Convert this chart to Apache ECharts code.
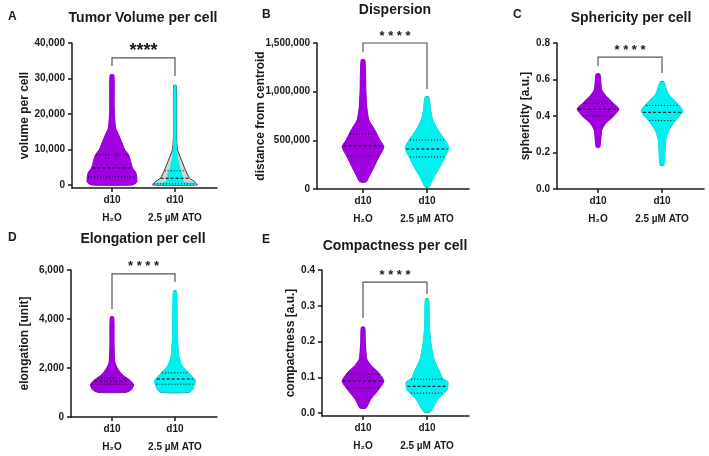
<!DOCTYPE html>
<html>
<head>
<meta charset="utf-8">
<script src="https://cdn.jsdelivr.net/npm/echarts@6/dist/echarts.min.js"></script>
<style>
  html, body { margin: 0; padding: 0; background: #fff; }
  #chart { width: 709px; height: 456px; }
</style>
</head>
<body>
<div id="chart"></div>
<script>
// groups on every x axis
const categories = ['d10\nH₂O', 'd10\n2.5 µM ATO']

// violin outlines: [value, relative density]
// A - tumor volume per cell
const volH2O = [[0, 0.95], [800, 1.15], [2300, 1.15], [3500, 1.1], [4800, 0.95], [6500, 0.86], [8500, 0.76], [10000, 0.57], [12000, 0.43], [14000, 0.29], [16000, 0.14], [18000, 0.1], [22000, 0.07], [31000, 0.05]]
const volATO = [[0, 1.05], [800, 0.95], [2000, 0.67], [4200, 0.48], [7000, 0.29], [9900, 0.1], [14000, 0.05], [28000, 0.04]]
const volATODots = [[0, 1.0], [500, 0.95], [900, 0.4], [2800, 0.33], [5000, 0.2], [8000, 0.1], [11000, 0.05], [28000, 0.03]]
const volQuartH2O = [2300, 4800, 8500]
const volQuartATO = [300, 1900, 4000]
const volTicks = [0, 10000, 20000, 30000, 40000]
const volBracket = [35800, 33500, 30700]

// B - dispersion
const disH2O = [[72000, 0.1], [123000, 0.24], [226000, 0.48], [329000, 0.71], [432000, 0.95], [503000, 0.76], [606000, 0.52], [710000, 0.24], [843000, 0.14], [1000000, 0.1], [1326000, 0.05]]
const disATO = [[20000, 0.05], [123000, 0.29], [226000, 0.57], [329000, 0.81], [421000, 1.0], [503000, 0.81], [606000, 0.48], [709000, 0.24], [800000, 0.14], [945000, 0.05]]
const disQuartH2O = [339000, 442000, 565000]
const disQuartATO = [329000, 411000, 503000]
const disTicks = [0, 500000, 1000000, 1500000]
const disBracket = [1500000, 1408000, 1028000]

// C - sphericity
const sphH2O = [[0.23, 0.05], [0.323, 0.14], [0.36, 0.33], [0.396, 0.67], [0.438, 0.95], [0.477, 0.62], [0.505, 0.38], [0.542, 0.14], [0.63, 0.05]]
const sphATO = [[0.13, 0.05], [0.27, 0.14], [0.323, 0.29], [0.378, 0.62], [0.428, 0.95], [0.477, 0.62], [0.525, 0.24], [0.587, 0.05]]
const sphQuartH2O = [0.40, 0.437, 0.47]
const sphQuartATO = [0.375, 0.42, 0.458]
const sphTicks = [0, 0.2, 0.4, 0.6, 0.8]
const sphBracket = [0.723, 0.674, 0.636]

// D - elongation
const eloH2O = [[1000, 0.6], [1080, 0.85], [1310, 1.0], [1510, 0.81], [1710, 0.48], [1960, 0.24], [2240, 0.1], [3000, 0.06], [4080, 0.04]]
const eloATO = [[1000, 0.6], [1100, 0.8], [1470, 0.95], [1630, 0.81], [1840, 0.57], [2120, 0.29], [2530, 0.14], [3500, 0.07], [5140, 0.04]]
const eloQuartH2O = [1340, 1470, 1590]
const eloQuartATO = [1340, 1550, 1800]
const eloTicks = [0, 2000, 4000, 6000]
const eloBracket = [5840, 4410, 5510]

// E - compactness
const comH2O = [[0.014, 0.1], [0.039, 0.33], [0.067, 0.71], [0.09, 0.95], [0.115, 0.67], [0.134, 0.33], [0.151, 0.14], [0.2, 0.07], [0.24, 0.04]]
const comATO = [[0.003, 0.1], [0.039, 0.48], [0.064, 0.9], [0.087, 0.95], [0.097, 0.7], [0.115, 0.57], [0.151, 0.29], [0.199, 0.14], [0.25, 0.07], [0.319, 0.04]]
const comQuartH2O = [0.07, 0.09, 0.109]
const comQuartATO = [0.056, 0.075, 0.095]
const comTicks = [0, 0.1, 0.2, 0.3, 0.4]
const comBracket = [0.366, 0.266, 0.333]

const PURPLE = '#a000e0'
const CYAN = '#00f0f0'
const BODY = '#d2d2d2'
const EDGE = '#3a3a3a'
const INK = '#1a1a1a'
const FONT = '"Liberation Sans", Arial, sans-serif'
const HALF = 0.33   // half width in x units for density 1
const DOT_R = 1.3   // dots poke out of the outline by about their radius

const commas = v => String(v).replace(/\B(?=(\d{3})+(?!\d))/g, ',')
const oneDec = v => v.toFixed(1)

const panels = [
  { letter: 'A', title: 'Tumor Volume per cell', name: 'volume per cell', nameGap: 41,
    grid: { left: 72, top: 43, width: 145, height: 145 }, xr: [0.365, 2.667], yr: [-850, 40000],
    ticks: volTicks, fmt: commas, shapes: [volH2O, volATO], dots: [volH2O, volATODots],
    quart: [volQuartH2O, volQuartATO], bracket: volBracket, stars: '****', starFont: 'bold 18px ' + FONT,
    titlePos: [143, 18], letterPos: [8, 17] },
  { letter: 'B', title: 'Dispersion', name: 'distance from centroid', nameGap: 50,
    grid: { left: 317, top: 43, width: 152, height: 146 }, xr: [0.281, 2.656], yr: [0, 1500000],
    ticks: disTicks, fmt: commas, shapes: [disH2O, disATO], dots: [disH2O, disATO],
    quart: [disQuartH2O, disQuartATO], bracket: disBracket, stars: '* * * *', starFont: 'bold 13px ' + FONT,
    titlePos: [395, 10], letterPos: [262, 15] },
  { letter: 'C', title: 'Sphericity per cell', name: 'sphericity [a.u.]', nameGap: 25,
    grid: { left: 557, top: 43, width: 147, height: 146 }, xr: [0.359, 2.656], yr: [0, 0.8],
    ticks: sphTicks, fmt: oneDec, shapes: [sphH2O, sphATO], dots: [sphH2O, sphATO],
    quart: [sphQuartH2O, sphQuartATO], bracket: sphBracket, stars: '* * * *', starFont: 'bold 13px ' + FONT,
    titlePos: [631, 18], letterPos: [513, 15] },
  { letter: 'D', title: 'Elongation per cell', name: 'elongation [unit]', nameGap: 40,
    grid: { left: 71, top: 270, width: 146, height: 147 }, xr: [0.349, 2.667], yr: [0, 6000],
    ticks: eloTicks, fmt: commas, shapes: [eloH2O, eloATO], dots: [eloH2O, eloATO],
    quart: [eloQuartH2O, eloQuartATO], bracket: eloBracket, stars: '* * * *', starFont: 'bold 13px ' + FONT,
    titlePos: [143, 239], letterPos: [8, 238] },
  { letter: 'E', title: 'Compactness per cell', name: 'compactness [a.u.]', nameGap: 25,
    grid: { left: 322, top: 270, width: 147, height: 146 }, xr: [0.359, 2.656], yr: [-0.008, 0.4],
    ticks: comTicks, fmt: oneDec, shapes: [comH2O, comATO], dots: [comH2O, comATO],
    quart: [comQuartH2O, comQuartATO], bracket: comBracket, stars: '* * * *', starFont: 'bold 13px ' + FONT,
    titlePos: [395, 246], letterPos: [262, 240] }
]

function densityAt(prof, v) {
  for (let i = 0; i < prof.length - 1; i++) {
    const a = prof[i], b = prof[i + 1]
    if (v >= a[0] && v <= b[0]) return a[1] + (b[1] - a[1]) * (v - a[0]) / (b[0] - a[0])
  }
  return 0
}

function violinSeries(idx, xv, shape, dots, quart, color) {
  return {
    type: 'custom', xAxisIndex: idx, yAxisIndex: idx, silent: true, clip: false,
    data: [[xv, shape[0][0], shape[shape.length - 1][0]]],
    renderItem(params, api) {
      const ppu = api.size([1, 0])[0]
      const cx = api.coord([xv, 0])[0]
      const poly = (prof, pad) => {
        const left = prof.map(p => [cx - p[1] * HALF * ppu - pad, api.coord([xv, p[0]])[1]])
        const right = prof.slice().reverse().map(p => [cx + p[1] * HALF * ppu + pad, api.coord([xv, p[0]])[1]])
        return left.concat(right)
      }
      const children = [
        { type: 'polygon', shape: { points: poly(shape, 0.5), smooth: 0.2 },
          style: { fill: BODY, stroke: EDGE, lineWidth: 1 } },
        { type: 'polygon', shape: { points: poly(dots, dots === shape ? DOT_R : 0.8), smooth: 0.2 },
          style: { fill: color } }
      ]
      quart.forEach((q, i) => {
        const hw = densityAt(shape, q) * HALF * ppu
        const y = api.coord([xv, q])[1]
        children.push({ type: 'line', shape: { x1: cx - hw, y1: y, x2: cx + hw, y2: y },
          style: { stroke: '#000', lineWidth: 1, lineDash: i === 1 ? [3, 2] : [1, 2] } })
      })
      return { type: 'group', children }
    }
  }
}

function bracketSeries(idx, b, stars, starFont) {
  return {
    type: 'custom', xAxisIndex: idx, yAxisIndex: idx, silent: true, clip: false,
    data: [[1, b[0]]],
    renderItem(params, api) {
      const l = api.coord([1, b[1]]), lt = api.coord([1, b[0]])
      const rt = api.coord([2, b[0]]), r = api.coord([2, b[2]])
      return { type: 'group', children: [
        { type: 'polyline', shape: { points: [l, lt, rt, r] },
          style: { stroke: '#555', lineWidth: 1.2, fill: null } },
        { type: 'text', x: (lt[0] + rt[0]) / 2, y: lt[1] - 7,
          style: { text: stars, font: starFont, fill: INK, align: 'center', verticalAlign: 'middle' } }
      ] }
    }
  }
}

const axisLineStyle = { color: INK, width: 1.5 }
const grid = [], xAxis = [], yAxis = [], series = [], graphic = []

panels.forEach((p, i) => {
  grid.push(Object.assign({ containLabel: false, outerBoundsMode: 'none' }, p.grid))
  xAxis.push({
    gridIndex: i, type: 'value', min: p.xr[0], max: p.xr[1],
    axisLine: { show: true, onZero: false, lineStyle: axisLineStyle },
    axisTick: { show: true, customValues: [1, 2], length: 4, lineStyle: axisLineStyle },
    axisLabel: { customValues: [1, 2], formatter: v => categories[Math.round(v) - 1],
      color: INK, fontFamily: FONT, fontWeight: 'bold', fontSize: 10, lineHeight: 18, margin: 3 },
    splitLine: { show: false }
  })
  yAxis.push({
    gridIndex: i, type: 'value', min: p.yr[0], max: p.yr[1],
    name: p.name, nameLocation: 'middle', nameGap: p.nameGap, nameMoveOverlap: false,
    nameTextStyle: { color: INK, fontFamily: FONT, fontWeight: 'bold', fontSize: 12 },
    axisLine: { show: true, onZero: false, lineStyle: axisLineStyle },
    axisTick: { show: true, customValues: p.ticks, length: 4, lineStyle: axisLineStyle },
    axisLabel: { customValues: p.ticks, formatter: p.fmt, color: INK, fontFamily: FONT,
      fontWeight: 'bold', fontSize: 10, margin: 7 },
    splitLine: { show: false }
  })
  series.push(violinSeries(i, 1, p.shapes[0], p.dots[0], p.quart[0], PURPLE))
  series.push(violinSeries(i, 2, p.shapes[1], p.dots[1], p.quart[1], CYAN))
  series.push(bracketSeries(i, p.bracket, p.stars, p.starFont))
  graphic.push({ type: 'text', x: p.titlePos[0], y: p.titlePos[1],
    style: { text: p.title, font: 'bold 14px ' + FONT, fill: INK, align: 'center', verticalAlign: 'middle' } })
  graphic.push({ type: 'text', x: p.letterPos[0], y: p.letterPos[1],
    style: { text: p.letter, font: 'bold 12px ' + FONT, fill: INK, align: 'left', verticalAlign: 'middle' } })
})

const chart = echarts.init(document.getElementById('chart'))
chart.setOption({
  animation: false,
  backgroundColor: '#fff',
  grid, xAxis, yAxis, series, graphic
})
</script>
</body>
</html>
